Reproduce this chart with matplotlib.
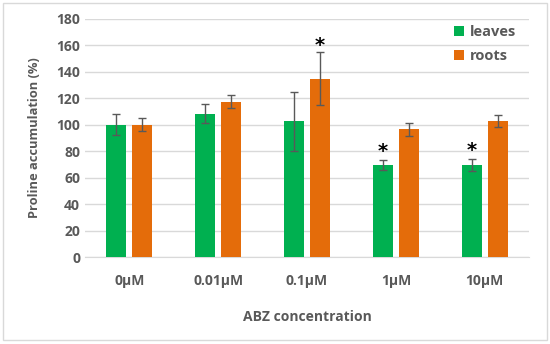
import matplotlib.pyplot as plt
import numpy as np
from matplotlib.patches import Rectangle

plt.rcParams['font.family'] = ['Open Sans', 'DejaVu Sans']

# data
concentrations = ["0µM", "0.01µM", "0.1µM", "1µM", "10µM"]
leaves = [100, 108.5, 102.5, 69.5, 69.5]
leaves_err = [8, 7, 22, 3.8, 4.3]
roots = [100, 117.5, 134.7, 96.6, 102.8]
roots_err = [5, 5, 20, 5, 4.7]
# stars: (category index, series, y)
stars = [(2, "roots", 160), (3, "leaves", 80), (4, "leaves", 80.5)]

GREEN = "#00B050"
ORANGE = "#E46C0A"
TXT = "#595959"

fig = plt.figure(figsize=(5.5, 3.44), dpi=100)
ax = fig.add_axes([0.1545, 0.2529, 0.8075, 0.6919])

x = np.arange(len(concentrations))
w = 0.225
off = 0.146
errkw = dict(ecolor="#595959", elinewidth=1, capsize=3, capthick=1)
ax.bar(x - off, leaves, w, color=GREEN, yerr=leaves_err, error_kw=errkw,
       label="leaves", zorder=3)
ax.bar(x + off, roots, w, color=ORANGE, yerr=roots_err, error_kw=errkw,
       label="roots", zorder=3)

for i, s, y in stars:
  xx = i - off if s == "leaves" else i + off
  ax.text(xx, y, "*", ha="center", va="center", fontsize=14,
          fontweight="bold", color="black", family="DejaVu Sans")

ax.set_xlim(-0.5, len(concentrations) - 0.5)
ax.set_ylim(0, 180)
ax.set_yticks(range(0, 181, 20))
ax.set_xticks(x)
ax.set_xticklabels(concentrations)
ax.grid(axis="y", color="#D9D9D9", linewidth=1, zorder=0)
ax.tick_params(length=0, colors=TXT, labelsize=10)
ax.tick_params(axis="x", pad=12)
for lab in ax.get_xticklabels() + ax.get_yticklabels():
  lab.set_fontweight("bold")
for sp in ["top", "right", "left"]:
  ax.spines[sp].set_visible(False)
ax.spines["bottom"].set_color("#D9D9D9")

ax.set_xlabel("ABZ concentration", fontsize=10, fontweight="bold",
              color=TXT, labelpad=16)
ax.set_ylabel("Proline accumulation (%)", fontsize=9.3, fontweight="bold",
              color=TXT, labelpad=11)

leg = ax.legend(loc="upper right", bbox_to_anchor=(1.0, 1.03), frameon=False,
                handlelength=0.7, handleheight=0.7, handletextpad=0.4,
                labelspacing=0.7, fontsize=10.5)
for t in leg.get_texts():
  t.set_color(TXT)
  t.set_fontweight("bold")

fig.patches.append(Rectangle((0.006, 0.012), 0.988, 0.978,
                             transform=fig.transFigure, fill=False,
                             edgecolor="#D9D9D9", linewidth=1))

fig.savefig("out.png", dpi=100)
